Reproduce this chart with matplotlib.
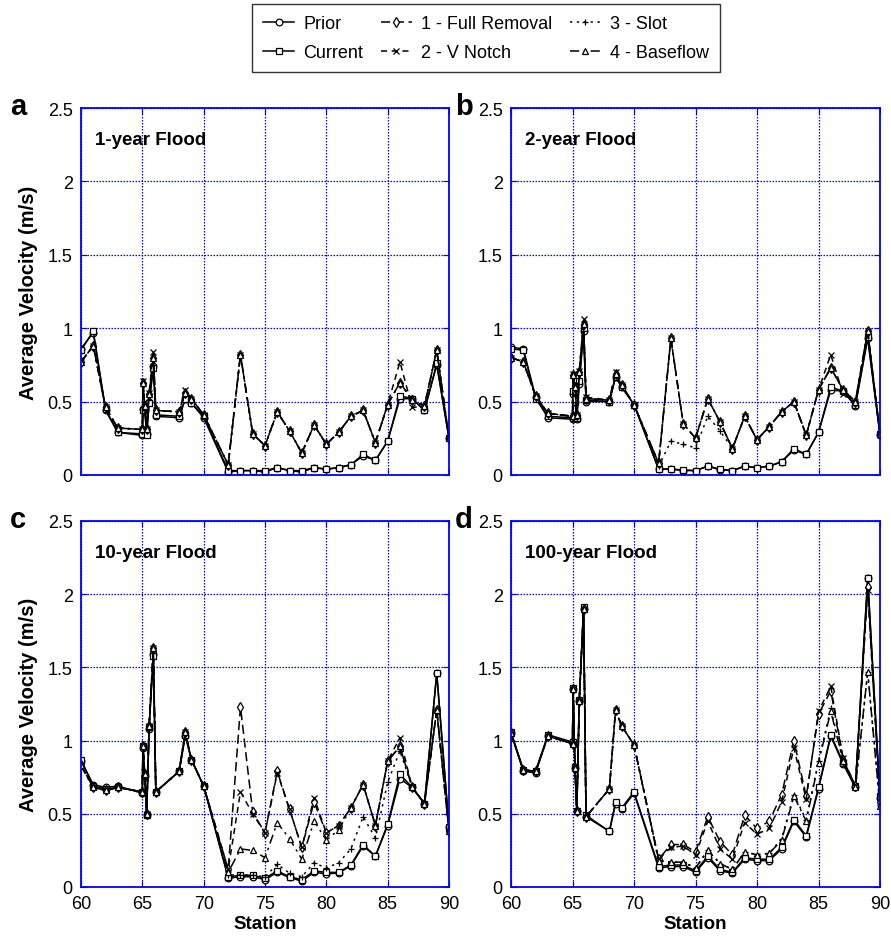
import matplotlib
matplotlib.use("Agg")
import matplotlib.pyplot as plt
from matplotlib.lines import Line2D

plt.rcParams['font.family'] = ['Liberation Sans', 'DejaVu Sans']

stations = [60, 61, 62, 63, 65.0, 65.05, 65.2, 65.35, 65.55, 65.9, 66.1, 68, 68.5, 69, 70,
            72, 73, 74, 75, 76, 77, 78, 79, 80, 81, 82, 83, 84, 85, 86, 87, 88, 89, 90]

series_names = ["Prior", "Current", "1 - Full Removal", "2 - V Notch", "3 - Slot", "4 - Baseflow"]
panel_titles = ["1-year Flood", "2-year Flood", "10-year Flood", "100-year Flood"]
panel_letters = ["a", "b", "c", "d"]
x_ticks = [60, 65, 70, 75, 80, 85, 90]
y_ticks = [0, 0.5, 1, 1.5, 2, 2.5]

# ---- 1-year flood ----
a_prior = [0.86, 0.97, 0.44, 0.29, 0.27, 0.45, 0.44, 0.28, 0.50, 0.74, 0.40, 0.39, 0.52, 0.49, 0.39,
           0.02, 0.03, 0.03, 0.02, 0.05, 0.03, 0.02, 0.05, 0.04, 0.05, 0.07, 0.13, 0.10, 0.23, 0.52, 0.52, 0.44, 0.75, 0.25]
a_current = [0.85, 0.98, 0.45, 0.29, 0.28, 0.44, 0.46, 0.27, 0.49, 0.73, 0.41, 0.40, 0.52, 0.49, 0.40,
             0.03, 0.03, 0.03, 0.03, 0.05, 0.03, 0.03, 0.05, 0.04, 0.05, 0.07, 0.14, 0.10, 0.23, 0.54, 0.52, 0.44, 0.76, 0.25]
a_full = [0.77, 0.88, 0.46, 0.32, 0.31, 0.63, 0.47, 0.31, 0.55, 0.80, 0.44, 0.43, 0.56, 0.52, 0.41,
          0.07, 0.82, 0.28, 0.20, 0.43, 0.30, 0.15, 0.34, 0.21, 0.29, 0.40, 0.44, 0.22, 0.48, 0.63, 0.51, 0.47, 0.85, 0.25]
a_vnotch = [0.77, 0.88, 0.46, 0.32, 0.31, 0.64, 0.48, 0.31, 0.56, 0.84, 0.44, 0.43, 0.58, 0.52, 0.41,
            0.07, 0.82, 0.28, 0.20, 0.43, 0.30, 0.15, 0.34, 0.21, 0.29, 0.40, 0.44, 0.22, 0.48, 0.77, 0.46, 0.47, 0.85, 0.25]
a_slot = [0.77, 0.88, 0.46, 0.32, 0.31, 0.63, 0.47, 0.31, 0.55, 0.80, 0.44, 0.43, 0.56, 0.52, 0.41,
          0.07, 0.82, 0.28, 0.20, 0.43, 0.30, 0.15, 0.34, 0.21, 0.29, 0.40, 0.44, 0.22, 0.48, 0.63, 0.51, 0.47, 0.85, 0.25]
a_base = [0.77, 0.88, 0.46, 0.32, 0.31, 0.63, 0.47, 0.31, 0.55, 0.80, 0.44, 0.43, 0.56, 0.52, 0.41,
          0.07, 0.82, 0.28, 0.20, 0.43, 0.30, 0.15, 0.34, 0.21, 0.29, 0.40, 0.44, 0.22, 0.48, 0.63, 0.51, 0.47, 0.85, 0.25]

# ---- 2-year flood ----
b_prior = [0.87, 0.86, 0.53, 0.39, 0.38, 0.55, 0.50, 0.38, 0.62, 0.98, 0.50, 0.50, 0.67, 0.60, 0.48,
           0.04, 0.04, 0.03, 0.03, 0.06, 0.035, 0.03, 0.06, 0.05, 0.06, 0.09, 0.17, 0.14, 0.29, 0.58, 0.57, 0.47, 0.93, 0.27]
b_current = [0.86, 0.85, 0.52, 0.40, 0.39, 0.57, 0.52, 0.39, 0.64, 1.00, 0.51, 0.50, 0.67, 0.60, 0.48,
             0.04, 0.04, 0.035, 0.03, 0.06, 0.04, 0.03, 0.06, 0.05, 0.06, 0.09, 0.18, 0.14, 0.29, 0.60, 0.57, 0.48, 0.94, 0.28]
b_full = [0.80, 0.77, 0.54, 0.42, 0.40, 0.68, 0.60, 0.41, 0.70, 1.03, 0.52, 0.51, 0.69, 0.61, 0.48,
          0.08, 0.93, 0.35, 0.25, 0.52, 0.36, 0.18, 0.40, 0.24, 0.33, 0.43, 0.50, 0.27, 0.58, 0.73, 0.58, 0.50, 0.98, 0.28]
b_vnotch = [0.80, 0.77, 0.54, 0.42, 0.40, 0.69, 0.61, 0.41, 0.71, 1.06, 0.53, 0.51, 0.70, 0.61, 0.48,
            0.08, 0.93, 0.35, 0.25, 0.52, 0.36, 0.18, 0.40, 0.24, 0.33, 0.43, 0.50, 0.27, 0.58, 0.82, 0.55, 0.50, 0.98, 0.28]
b_slot = [0.80, 0.77, 0.54, 0.42, 0.40, 0.68, 0.60, 0.41, 0.70, 1.03, 0.52, 0.51, 0.69, 0.61, 0.48,
          0.06, 0.23, 0.21, 0.185, 0.40, 0.30, 0.18, 0.40, 0.24, 0.33, 0.43, 0.50, 0.27, 0.58, 0.73, 0.58, 0.50, 0.98, 0.28]
b_base = [0.80, 0.77, 0.54, 0.42, 0.40, 0.68, 0.60, 0.41, 0.70, 1.03, 0.52, 0.51, 0.69, 0.61, 0.48,
          0.08, 0.93, 0.35, 0.25, 0.52, 0.36, 0.18, 0.40, 0.24, 0.33, 0.43, 0.50, 0.27, 0.58, 0.73, 0.58, 0.50, 0.98, 0.28]

# ---- 10-year flood ----
c_prior = [0.86, 0.70, 0.68, 0.69, 0.64, 0.95, 0.76, 0.49, 1.08, 1.59, 0.65, 0.79, 1.03, 0.87, 0.69,
           0.06, 0.07, 0.07, 0.05, 0.10, 0.065, 0.04, 0.10, 0.09, 0.095, 0.145, 0.28, 0.21, 0.42, 0.74, 0.68, 0.57, 1.46, 0.41]
c_current = [0.87, 0.69, 0.67, 0.68, 0.65, 0.96, 0.77, 0.49, 1.09, 1.58, 0.65, 0.79, 1.04, 0.87, 0.69,
             0.07, 0.08, 0.08, 0.06, 0.11, 0.07, 0.05, 0.11, 0.10, 0.10, 0.15, 0.29, 0.21, 0.43, 0.77, 0.68, 0.57, 1.46, 0.41]
c_full = [0.83, 0.68, 0.66, 0.68, 0.65, 0.96, 0.77, 0.50, 1.10, 1.63, 0.65, 0.79, 1.06, 0.87, 0.69,
          0.12, 1.23, 0.51, 0.37, 0.79, 0.53, 0.27, 0.58, 0.37, 0.42, 0.54, 0.70, 0.42, 0.86, 0.96, 0.68, 0.57, 1.21, 0.38]
c_vnotch = [0.83, 0.68, 0.66, 0.68, 0.65, 0.96, 0.77, 0.50, 1.10, 1.63, 0.65, 0.79, 1.06, 0.87, 0.69,
            0.12, 0.65, 0.50, 0.37, 0.78, 0.53, 0.27, 0.61, 0.37, 0.42, 0.54, 0.70, 0.42, 0.86, 1.02, 0.68, 0.57, 1.21, 0.38]
c_slot = [0.83, 0.68, 0.66, 0.68, 0.65, 0.96, 0.77, 0.50, 1.10, 1.63, 0.65, 0.79, 1.06, 0.87, 0.69,
          0.08, 0.085, 0.08, 0.07, 0.155, 0.095, 0.07, 0.165, 0.13, 0.165, 0.26, 0.48, 0.335, 0.715, 0.93, 0.68, 0.57, 1.21, 0.38]
c_base = [0.83, 0.68, 0.66, 0.68, 0.65, 0.96, 0.77, 0.50, 1.10, 1.63, 0.65, 0.79, 1.06, 0.87, 0.69,
          0.10, 0.26, 0.25, 0.20, 0.44, 0.33, 0.19, 0.45, 0.32, 0.39, 0.54, 0.70, 0.42, 0.86, 0.96, 0.68, 0.57, 1.21, 0.38]

# ---- 100-year flood ----
d_prior = [1.05, 0.79, 0.78, 1.03, 0.98, 1.35, 0.81, 0.52, 1.27, 1.90, 0.48, 0.38, 0.57, 0.53, 0.64,
           0.13, 0.14, 0.14, 0.10, 0.20, 0.11, 0.095, 0.19, 0.18, 0.18, 0.26, 0.45, 0.34, 0.67, 1.03, 0.84, 0.68, 2.11, 0.61]
d_current = [1.06, 0.80, 0.79, 1.04, 0.99, 1.36, 0.82, 0.52, 1.28, 1.91, 0.49, 0.38, 0.58, 0.54, 0.65,
             0.14, 0.15, 0.15, 0.11, 0.21, 0.12, 0.10, 0.20, 0.19, 0.19, 0.27, 0.46, 0.35, 0.68, 1.04, 0.85, 0.69, 2.11, 0.62]
d_full = [1.05, 0.80, 0.79, 1.03, 0.98, 1.35, 0.81, 0.52, 1.27, 1.90, 0.48, 0.67, 1.21, 1.10, 0.97,
          0.19, 0.29, 0.29, 0.24, 0.48, 0.31, 0.22, 0.49, 0.40, 0.45, 0.63, 1.00, 0.62, 1.18, 1.34, 0.87, 0.69, 2.05, 0.58]
d_vnotch = [1.05, 0.80, 0.79, 1.03, 0.98, 1.35, 0.81, 0.52, 1.27, 1.90, 0.48, 0.67, 1.21, 1.10, 0.97,
            0.19, 0.27, 0.28, 0.22, 0.45, 0.26, 0.19, 0.44, 0.36, 0.40, 0.58, 0.95, 0.60, 1.20, 1.37, 0.88, 0.69, 2.03, 0.58]
d_slot = [1.05, 0.80, 0.79, 1.03, 0.98, 1.35, 0.81, 0.52, 1.27, 1.90, 0.48, 0.67, 1.21, 1.10, 0.97,
          0.18, 0.17, 0.17, 0.13, 0.25, 0.16, 0.12, 0.24, 0.22, 0.23, 0.33, 0.63, 0.46, 0.86, 1.22, 0.86, 0.68, 1.47, 0.55]
d_base = [1.05, 0.80, 0.79, 1.03, 0.98, 1.35, 0.81, 0.52, 1.27, 1.90, 0.48, 0.67, 1.21, 1.10, 0.97,
          0.18, 0.17, 0.17, 0.13, 0.25, 0.16, 0.12, 0.24, 0.22, 0.23, 0.32, 0.62, 0.45, 0.85, 1.20, 0.86, 0.68, 1.47, 0.55]

panels = [
    [a_prior, a_current, a_full, a_vnotch, a_slot, a_base],
    [b_prior, b_current, b_full, b_vnotch, b_slot, b_base],
    [c_prior, c_current, c_full, c_vnotch, c_slot, c_base],
    [d_prior, d_current, d_full, d_vnotch, d_slot, d_base],
]

styles = [
    dict(linestyle='-', marker='o'),
    dict(linestyle='-', marker='s'),
    dict(linestyle=(0, (6, 3)), marker='d'),
    dict(linestyle=(0, (4, 3)), marker='x'),
    dict(linestyle=(0, (1.5, 3)), marker='+'),
    dict(linestyle=(0, (6, 3, 1.5, 3)), marker='^'),
]

W, H = 891, 945
fig = plt.figure(figsize=(W / 100, H / 100), dpi=100)

boxes = [(81, 109, 449, 476), (511, 109, 880, 476), (81, 522, 449, 888), (511, 522, 880, 888)]
letter_x = [10, 455, 10, 455]
blue = '#0000ff'

for i, (l, t, r, b) in enumerate(boxes):
    ax = fig.add_axes([l / W, 1 - b / H, (r - l) / W, (b - t) / H])
    for vals, st, name in zip(panels[i], styles, series_names):
        ax.plot(stations, vals, color='black', lw=1.1, ms=4.8, mfc='white', mec='black',
                mew=0.9, label=name, **st)
    ax.set_xlim(60, 90)
    ax.set_ylim(0, 2.5)
    ax.set_xticks(x_ticks)
    ax.set_yticks(y_ticks)
    ax.set_yticklabels(['0', '0.5', '1', '1.5', '2', '2.5'])
    ax.grid(True, color=blue, linestyle=(0, (1.2, 1.2)), lw=0.9)
    for sp in ax.spines.values():
        sp.set_color(blue)
        sp.set_linewidth(1.3)
    ax.tick_params(direction='in', top=True, right=True, color=blue, length=4,
                   labelsize=13, labelcolor='black', pad=6)
    if i < 2:
        ax.tick_params(labelbottom=False)
    else:
        ax.set_xlabel('Station', fontsize=13.5, fontweight='bold', labelpad=2)
    if i % 2 == 0:
        ax.set_ylabel('Average Velocity (m/s)', fontsize=14.5, fontweight='bold', labelpad=7)
    ax.text(0.038, 0.915, panel_titles[i], transform=ax.transAxes, fontsize=13.5,
            fontweight='bold', ha='left', va='center')
    fig.text(letter_x[i] / W, 1 - (t - 2) / H, panel_letters[i], fontsize=21, fontweight='bold',
             ha='left', va='center')

handles = [Line2D([], [], color='black', lw=1.1, ms=4.8, mfc='white', mec='black', mew=0.9, **st)
           for st in styles]
leg = fig.legend(handles, series_names, loc='center', bbox_to_anchor=(486 / W, 1 - 39 / H),
                 ncol=3, fontsize=13, frameon=True, fancybox=False, edgecolor='black',
                 handlelength=1.7, columnspacing=1.0, handletextpad=0.5, borderpad=0.6,
                 labelspacing=0.65)
leg.get_frame().set_linewidth(1.0)

fig.savefig('out.png', dpi=100)
